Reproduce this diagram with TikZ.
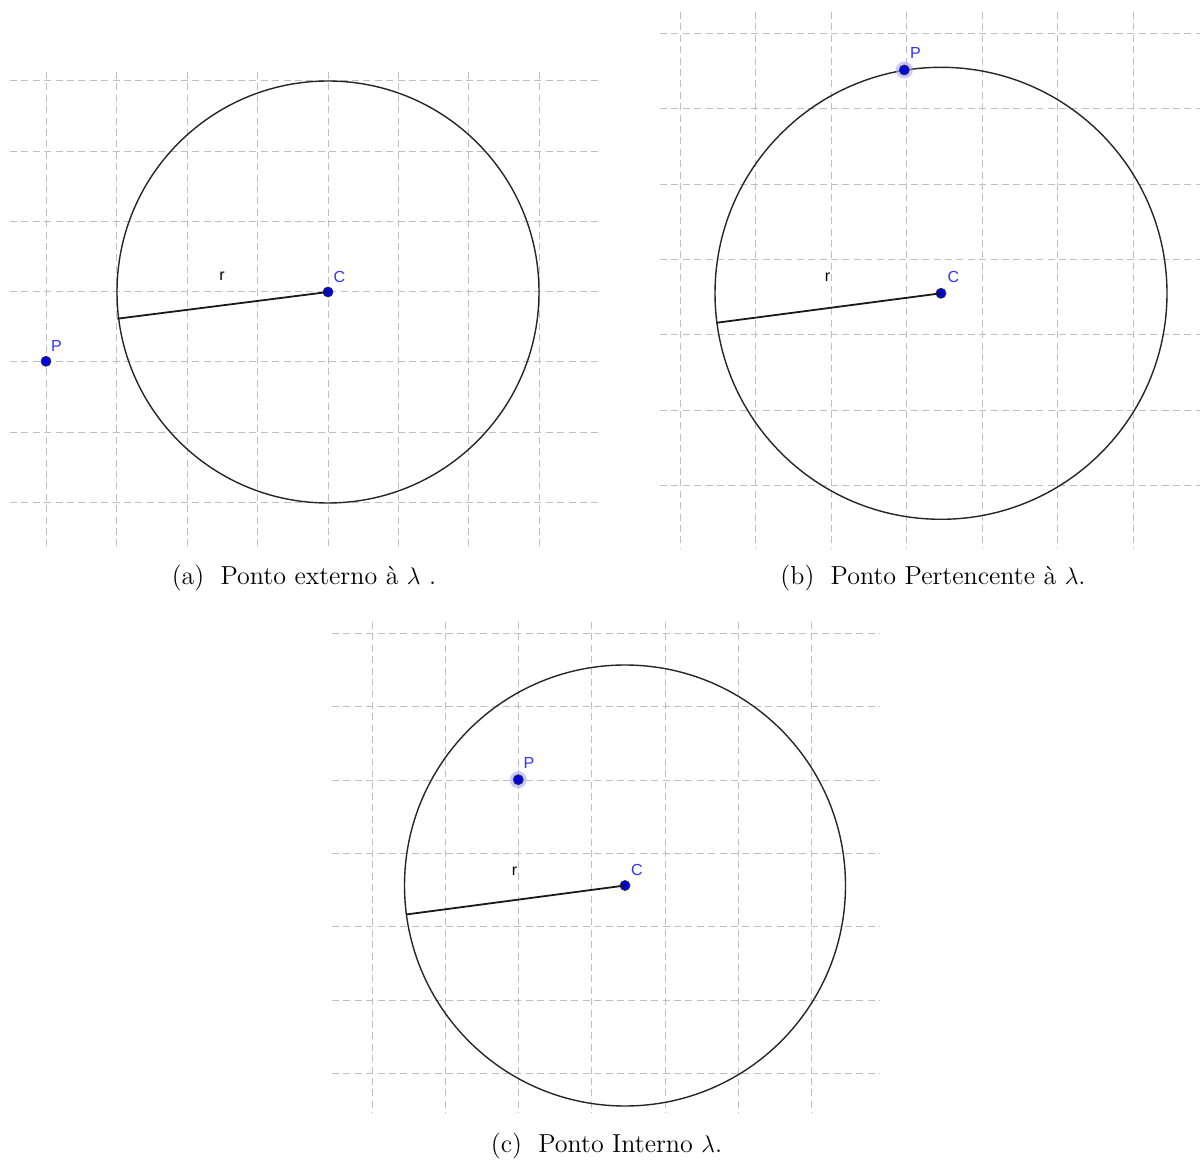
\documentclass[tikz,border=0pt]{standalone}
\usepackage{fontspec}
\newfontfamily\ggfont{Liberation Sans}
\begin{document}
\begin{tikzpicture}[x=0.5pt,y=-0.5pt,
  gridline/.style={draw=black!25, line width=0.5pt, dash pattern=on 3.5pt off 2.2pt},
  circ/.style={draw=black!85, line width=0.7pt},
  radline/.style={draw=black!90, line width=0.9pt},
  gpt/.style={circle, fill=blue!90!black, draw=black!80, line width=0.4pt, inner sep=0pt, minimum size=5pt},
  halo/.style={circle, fill=blue!35, fill opacity=0.6, inner sep=0pt, minimum size=8.5pt},
  ptlabel/.style={text=blue!80!white, font=\ggfont\fontsize{8}{9}\selectfont, inner sep=0pt},
  rlabel/.style={text=black, font=\ggfont\fontsize{8}{9}\selectfont, inner sep=0pt},
  caption/.style={font=\fontsize{13}{15}\selectfont, inner sep=0pt}]
\useasboundingbox (0,0) rectangle (1200,1160);
\fill[white] (0,0) rectangle (1200,1160);

% ---------- Panel (a) ----------
\foreach \x in {46,116.5,187,257.3,328,398.3,468.7,539} \draw[gridline] (\x,72) -- (\x,548);
\foreach \y in {81,151.3,221.6,292,362,432.3,502.6} \draw[gridline] (10,\y) -- (600,\y);
\node[gpt] (Ca) at (328,292) {};
\draw[circ] (Ca.center) circle[radius=211];
\coordinate (Ea) at (117.3,318.7);
\draw[radline] (Ca.center) -- (Ea);
\node[gpt] (Pa) at (46,361.3) {};
\node[ptlabel] (PaL) at (56.5,346) {P};
\node[ptlabel] (CaL) at (339.5,276.5) {C};
\node[rlabel] (ra) at (222,276.5) {r};
\node[caption] (capa) at (304,578) {(a)\hspace{0.3em} Ponto externo à $\lambda$ .};

% ---------- Panel (b) ----------
\foreach \x in {680,755.5,831,906.7,982,1057.7,1133} \draw[gridline] (\x,12) -- (\x,548);
\foreach \y in {34,109,184.3,259.6,335,410.3,485.6} \draw[gridline] (660,\y) -- (1200,\y);
\node[gpt] (Cb) at (941,293.3) {};
\draw[circ] (Cb.center) circle[radius=226];
\coordinate (Eb) at (716.3,322.8);
\draw[radline] (Cb.center) -- (Eb);
\node[halo] (Pbh) at (904.3,70) {};
\node[gpt] (Pb) at (904.3,70) {};
\node[ptlabel] (PbL) at (915.5,53) {P};
\node[ptlabel] (CbL) at (953.5,276.5) {C};
\node[rlabel] (rb) at (827.5,277) {r};
\node[caption] (capb) at (933,578) {(b)\hspace{0.3em} Ponto Pertencente à $\lambda$.};

% ---------- Panel (c) ----------
\foreach \x in {372,445.3,518.3,591.7,665,738.3,811.7} \draw[gridline] (\x,622) -- (\x,1113);
\foreach \y in {633.3,706.7,780,853.3,926.7,1000,1073.3} \draw[gridline] (332,\y) -- (880,\y);
\node[gpt] (Cc) at (625,885.5) {};
\draw[circ] (Cc.center) circle[radius=220.5];
\coordinate (Ec) at (406,914.5);
\draw[radline] (Cc.center) -- (Ec);
\node[halo] (Pch) at (518.3,779.7) {};
\node[gpt] (Pc) at (518.3,779.7) {};
\node[ptlabel] (PcL) at (529,763) {P};
\node[ptlabel] (CcL) at (637,870) {C};
\node[rlabel] (rc) at (514.5,871) {r};
\node[caption] (capc) at (606.5,1146) {(c)\hspace{0.3em} Ponto Interno $\lambda$.};
\end{tikzpicture}
\end{document}
